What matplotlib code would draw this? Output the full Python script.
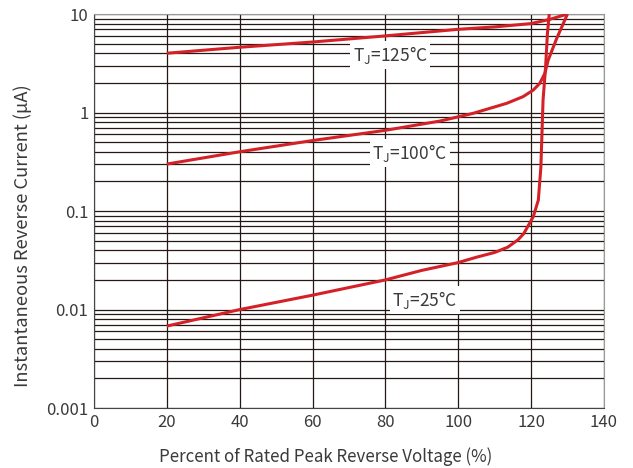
import numpy as np
import matplotlib
matplotlib.use("Agg")
import matplotlib.pyplot as plt
from matplotlib.ticker import LogLocator, FixedLocator, NullFormatter

plt.rcParams['font.family'] = ['Noto Sans CJK SC', 'DejaVu Sans']
plt.rcParams['mathtext.fontset'] = 'custom'
plt.rcParams['mathtext.rm'] = 'Noto Sans CJK SC'

# curves
x125 = [20, 40, 60, 80, 100, 110, 120, 125, 130]
y125 = [4.0, 4.6, 5.2, 6.0, 7.0, 7.4, 8.0, 8.8, 10]

x100 = [20, 40, 60, 80, 95, 104, 113.3, 117.8, 120.6, 122.4, 123.8, 124.7, 127, 130]
y100 = [0.30, 0.40, 0.52, 0.66, 0.82, 0.98, 1.24, 1.45, 1.69, 1.98, 2.5, 3.4, 5.6, 10]

x25 = [20, 40, 60, 80, 90, 100, 105, 110, 113.6, 116.4, 118.0, 120.6, 122.0, 122.7, 123.0, 123.3, 124.0, 124.5, 125.0]
y25 = [0.0068, 0.010, 0.014, 0.020, 0.025, 0.030, 0.034, 0.038, 0.043, 0.051, 0.059, 0.0875, 0.129, 0.28, 0.615, 1.34, 2.92, 6.37, 10]

labels = ["T$_\\mathrm{J}$=125°C", "T$_\\mathrm{J}$=100°C", "T$_\\mathrm{J}$=25°C"]
label_pos = [(81.3, 3.84), (86.7, 0.39), (90.9, 0.0125)]

xticks = [0, 20, 40, 60, 80, 100, 120, 140]
yticks = [0.001, 0.01, 0.1, 1, 10]
yticklabels = ["0.001", "0.01", "0.1", "1", "10"]

red = '#d42128'
txt = '#3a3a3a'

fig = plt.figure(figsize=(6.33, 4.68), dpi=100)
ax = fig.add_axes([0.1485, 0.128, 0.8055, 0.842])

ax.set_yscale('log')
ax.set_xlim(0, 140)
ax.set_ylim(0.001, 10)

ax.plot(x125, y125, color=red, lw=2.2, solid_capstyle='butt', zorder=3)
ax.plot(x100, y100, color=red, lw=2.2, solid_capstyle='butt', zorder=3)
ax.plot(x25, y25, color=red, lw=2.2, solid_capstyle='butt', zorder=3)

for lab, (lx, ly) in zip(labels, label_pos):
    ax.text(lx, ly, lab, ha='center', va='center', fontsize=12.5, color=txt,
            fontweight='light',
            bbox=dict(facecolor='white', edgecolor='none', pad=2), zorder=4)

ax.xaxis.set_major_locator(FixedLocator(xticks))
ax.yaxis.set_major_locator(FixedLocator(yticks))
ax.set_yticklabels(yticklabels)
ax.yaxis.set_minor_locator(LogLocator(base=10, subs=np.arange(2, 10)))
ax.yaxis.set_minor_formatter(NullFormatter())

ax.grid(True, which='major', axis='both', color='#231815', lw=0.9, zorder=1)
ax.grid(True, which='minor', axis='y', color='#231815', lw=0.9, zorder=1)
ax.set_axisbelow(True)

ax.tick_params(which='both', length=0, labelsize=12, labelcolor=txt, pad=4)
for t in ax.get_xticklabels() + ax.get_yticklabels():
    t.set_fontweight('light')
for s in ['left', 'bottom']:
    ax.spines[s].set_color('#444444')
for s in ['top', 'right']:
    ax.spines[s].set_color('#999999')

ax.set_xlabel("Percent of Rated Peak Reverse Voltage (%)", fontsize=12.2, color=txt,
              fontweight='light', labelpad=12)
ax.set_ylabel("Instantaneous Reverse Current (μA)", fontsize=13.2, color=txt,
              fontweight='light', labelpad=10)
ax.xaxis.label.set_x(0.455)
ax.yaxis.label.set_y(0.437)

fig.savefig("out.png", dpi=100)
